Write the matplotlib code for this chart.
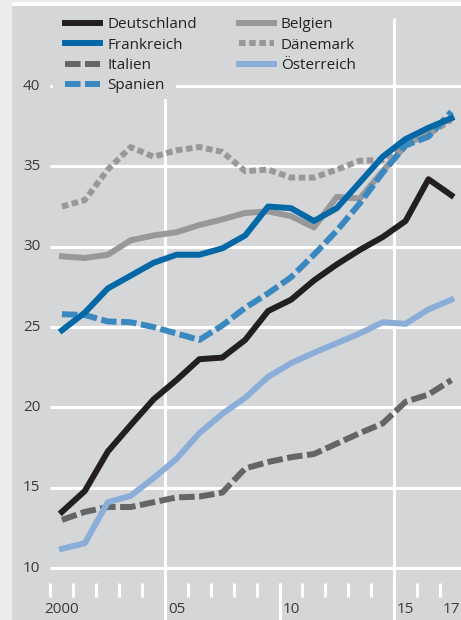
import matplotlib
matplotlib.use("Agg")
import matplotlib.pyplot as plt
from matplotlib.patches import Rectangle
import numpy as np

plt.rcParams['font.family'] = ['Open Sans', 'DejaVu Sans']

years = list(range(2000, 2018))
deutschland = [13.5, 14.8, 17.25, 18.9, 20.5, 21.7, 23.0, 23.1, 24.2, 26.0, 26.7, 27.9, 28.9, 29.8, 30.6, 31.6, 34.2, 33.2]
frankreich  = [24.8, 25.9, 27.4, 28.2, 29.0, 29.5, 29.5, 29.9, 30.7, 32.5, 32.4, 31.6, 32.4, 34.0, 35.6, 36.7, 37.4, 38.0]
italien     = [13.0, 13.5, 13.8, 13.8, 14.1, 14.4, 14.45, 14.7, 16.2, 16.6, 16.9, 17.1, 17.75, 18.4, 19.0, 20.35, 20.8, 21.7]
spanien     = [25.8, 25.75, 25.35, 25.3, 25.0, 24.6, 24.2, 25.1, 26.2, 27.1, 28.1, 29.5, 31.0, 32.7, 34.6, 36.3, 36.85, 38.4]
belgien     = [29.4, 29.3, 29.5, 30.4, 30.7, 30.9, 31.35, 31.7, 32.1, 32.2, 31.9, 31.2, 33.1, 33.0, 34.7, 36.3, 37.2, 38.0]
daenemark   = [32.5, 32.9, 34.8, 36.2, 35.6, 36.0, 36.2, 35.9, 34.7, 34.8, 34.3, 34.3, 34.8, 35.35, 35.4, 36.4, 37.0, 37.9]
oesterreich = [11.2, 11.55, 14.1, 14.5, 15.6, 16.8, 18.4, 19.6, 20.6, 21.9, 22.75, 23.4, 24.0, 24.6, 25.3, 25.2, 26.1, 26.7]

y_ticks = [10, 15, 20, 25, 30, 35, 40]
x_tick_years = [2000, 2005, 2010, 2015, 2017]
x_tick_labels = ["2000", "05", "10", "15", "17"]

panel = "#d5d6d8"
txt = "#3a3a3a"
LW = 4.3
FS = 11

fig = plt.figure(figsize=(4.61, 6.20), dpi=100)
fig.patch.set_facecolor("#ececee")
# white top band
fig.patches.append(Rectangle((12/461, 1 - 6/620), 1, 4.5/620, transform=fig.transFigure,
                             facecolor="white", edgecolor="none", zorder=0))

ax = fig.add_axes([12/461, 0, 1 - 12/461, 1 - 6/620])
ax.set_facecolor(panel)
for s in ax.spines.values():
    s.set_visible(False)
ax.set_xticks([])
ax.set_yticks([])

x0, x1 = 1997.82, 2017.42
y0, y1 = 6.77, 44.98
ax.set_xlim(x0, x1)
ax.set_ylim(y0, y1)

# gridlines
ax.hlines(y_ticks, 1999.5, x1, colors="white", lw=2.2, zorder=1)
ax.vlines([2004.5, 2014.5], y0, 44.23, colors="white", lw=2.2, zorder=1)
ax.vlines([2009.5], y0, 9.07, colors="white", lw=2.2, zorder=1)
# small ticks
ax.vlines(np.arange(1999.5, 2017.0, 1.0), 8.2, 9.07, colors="white", lw=2.2, zorder=1)

# legend background patch
ax.add_patch(Rectangle((1999.6, 39.2), 2004.98 - 1999.6, 44.98 - 39.2, facecolor=panel,
                       edgecolor="none", zorder=2))

# y labels
for v in y_ticks:
    ax.text(1999.06, v, str(v), ha="right", va="center", fontsize=FS, color=txt, zorder=5)
# x labels
for yr, lab in zip(x_tick_years, x_tick_labels):
    if yr == 2000:
        ax.text(yr, 7.4, lab, ha="center", va="center", fontsize=FS, color=txt)
    else:
        ax.text(yr - 0.37, 7.4, lab, ha="left", va="center", fontsize=FS, color=txt)

dash = (0, (2.6, 0.75))
dots = (0, (1.1, 0.6))
l_dk, = ax.plot(years, daenemark, color="#98989a", lw=LW, ls=dots, dash_capstyle="butt", zorder=3, label="Dänemark")
l_be, = ax.plot(years, belgien, color="#98989a", lw=LW, zorder=3, label="Belgien")
l_it, = ax.plot(years, italien, color="#646567", lw=LW, ls=dash, dash_capstyle="butt", zorder=3, label="Italien")
l_at, = ax.plot(years, oesterreich, color="#8aaed8", lw=LW, zorder=3, label="Österreich")
l_es, = ax.plot(years, spanien, color="#3a88c0", lw=LW, ls=dash, dash_capstyle="butt", zorder=3, label="Spanien")
l_de, = ax.plot(years, deutschland, color="#231f20", lw=LW, zorder=4, label="Deutschland")
l_fr, = ax.plot(years, frankreich, color="#0568a6", lw=LW, zorder=4, label="Frankreich")

handles = [l_de, l_fr, l_it, l_es, l_be, l_dk, l_at]
leg = ax.legend(handles=handles, labels=[h.get_label() for h in handles], ncol=2,
                loc="upper left", bbox_to_anchor=((65 - 12) / 449, 1 - (17.5 - 6) / 614),
                frameon=False, fontsize=FS, handlelength=2.3, handletextpad=0.45,
                columnspacing=2.75, labelspacing=0.34, borderpad=0, borderaxespad=0)
for t in leg.get_texts():
    t.set_color("#222222")
leg.set_zorder(6)

fig.savefig("out.png", dpi=100, facecolor=fig.get_facecolor())
